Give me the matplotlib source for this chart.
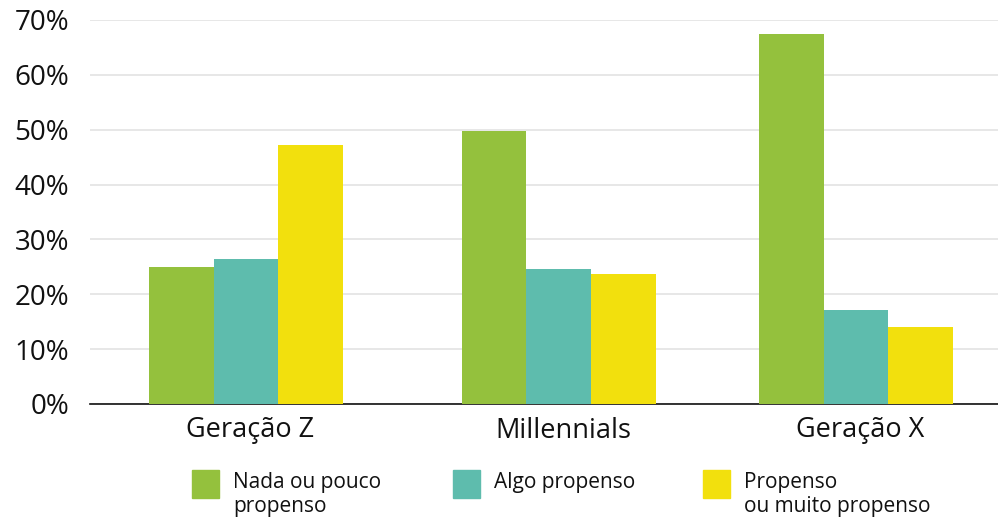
import numpy as np
import matplotlib.pyplot as plt
from matplotlib.patches import Rectangle

plt.rcParams['font.family'] = ['Open Sans', 'DejaVu Sans']

categories = ["Geração Z", "Millennials", "Geração X"]
series_names = ["Nada ou pouco\npropenso", "Algo propenso", "Propenso\nou muito propenso"]
nada = [25.0, 49.8, 67.4]
algo = [26.4, 24.6, 17.1]
propenso = [47.2, 23.7, 14.0]
yticks = [0, 10, 20, 30, 40, 50, 60, 70]

colors = ["#94c13d", "#5ebcad", "#f2e00d"]

fig = plt.figure(figsize=(9.98, 5.17), dpi=100)
ax = fig.add_axes([90 / 998, 113 / 517, 908 / 998, 384 / 517])

# group centres (slightly uneven spacing, as in the original)
x = np.array([0, 1.026, 2.0])
w = 0.212
for i, vals in enumerate([nada, algo, propenso]):
    ax.bar(x + (i - 1) * w, vals, width=w, color=colors[i], zorder=3)

ax.set_xlim(-0.511, 2.466)
ax.set_ylim(0, 70)
ax.set_yticks(yticks)
ax.set_yticklabels([f"{t}%" for t in yticks], fontsize=20, color="#111111")
ax.yaxis.grid(True, color="#e3e3e3", linewidth=1.2, zorder=0)
ax.set_axisbelow(True)
ax.tick_params(axis='y', length=0, pad=15)
ax.tick_params(axis='x', length=0, pad=9)
ax.set_xticks(x + 0.015)
ax.set_xticklabels(categories, fontsize=19.5, color="#111111", fontweight='medium')
for s in ["top", "right", "left"]:
    ax.spines[s].set_visible(False)
ax.spines["bottom"].set_color("#111111")
ax.spines["bottom"].set_linewidth(1.2)

# legend drawn by hand
leg_x = [192, 453, 703]
for i, name in enumerate(series_names):
    fig.patches.append(Rectangle((leg_x[i] / 998, 1 - 498 / 517), 27 / 998, 28 / 517,
                                 transform=fig.transFigure, color=colors[i]))
    fig.text((leg_x[i] + 41) / 998, 1 - 472 / 517, name, fontsize=15, va='top',
             ha='left', color="#111111", linespacing=1.2)

fig.savefig("out.png", dpi=100)
